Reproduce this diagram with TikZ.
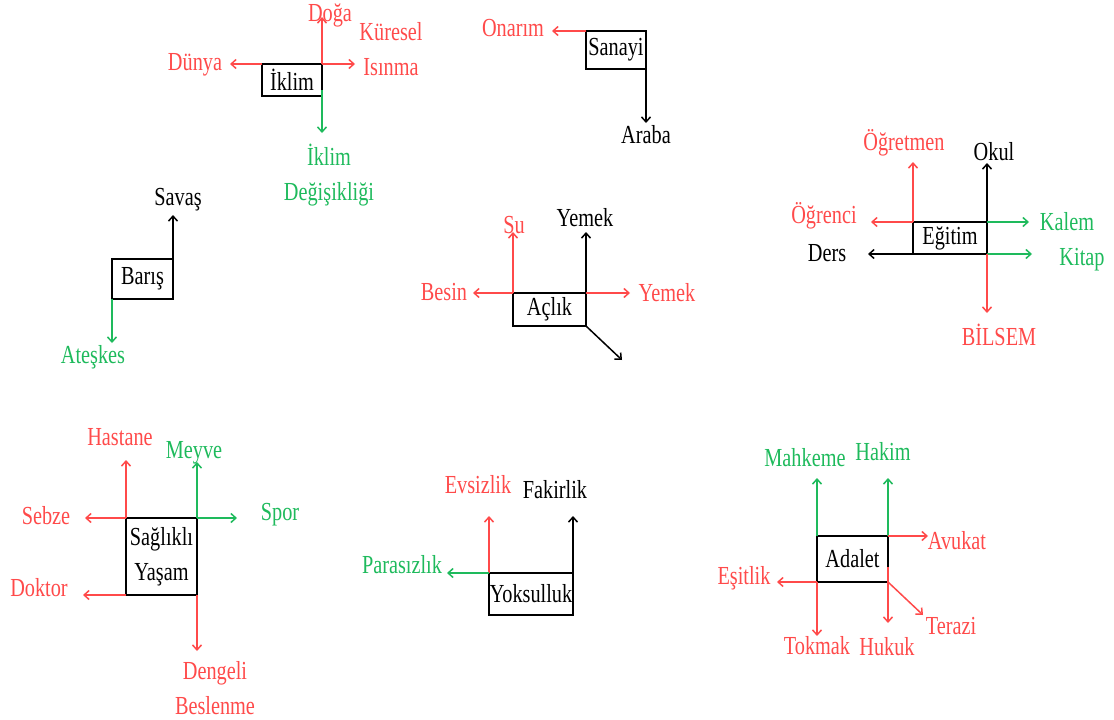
\documentclass[tikz,border=0pt]{standalone}
\usepackage{fontspec}
\setmainfont{Liberation Serif}[FakeStretch=0.78]
\usetikzlibrary{arrows.meta}
\definecolor{cred}{HTML}{FF4A4A}
\definecolor{cgreen}{HTML}{1EBA5C}
\begin{document}
\begin{tikzpicture}[x=1pt,y=-1pt,
  every node/.style={font=\fontsize{26}{35}\selectfont, inner sep=0pt},
  box/.style={draw, line width=1.6pt, outer sep=0pt, inner sep=0pt},
  lbl/.style={align=center},
  arr/.style={line width=1.5pt, -{Straight Barb[length=5pt,width=9pt]}}]
\useasboundingbox (0,0) rectangle (1114,720);
% boxes
\node[box, minimum width=60pt, minimum height=32pt] (iklim) at (292,80) {İklim};
\node[box, minimum width=60pt, minimum height=38pt] (sanayi) at (616,50) {Sanayi};
\node[box, minimum width=61pt, minimum height=40pt] (baris) at (142.5,279) {Barış};
\node[box, minimum width=73pt, minimum height=33pt] (aclik) at (549.5,309.5) {Açlık};
\node[box, minimum width=74pt, minimum height=32pt] (egitim) at (950,238) {Eğitim};
\node[box, minimum width=71pt, minimum height=77pt, align=center] (saglik) at (161.5,556.5) {Sağlıklı\\Yaşam};
\node[box, minimum width=84pt, minimum height=42pt] (yok) at (531,594) {Yoksulluk};
\node[box, minimum width=71pt, minimum height=46pt] (adalet) at (852.5,559) {Adalet};

% İklim
\coordinate (ik1) at (322,17);
\coordinate (ik2) at (230,64);
\coordinate (ik3) at (355,64);
\coordinate (ik4) at (322,133);
\draw[arr,cred] (iklim.north east) -- (ik1);
\draw[arr,cred] (iklim.north west) -- (ik2);
\draw[arr,cred] (iklim.north east) -- (ik3);
\draw[arr,cgreen] ([yshift=6pt]iklim.south east) -- (ik4);
\node[lbl,cred] (lDoga) at (330,15) {Doğa};
\node[lbl,cred] (lDunya) at (195,65) {Dünya};
\node[lbl,cred] (lKuresel) at (391,49) {Küresel\\Isınma};
\node[lbl,cgreen] (lIklimD) at (329,175) {İklim\\Değişikliği};

% Sanayi
\coordinate (sa1) at (552,31);
\coordinate (sa2) at (646,123);
\draw[arr,cred] (sanayi.north west) -- (sa1);
\draw[arr] (sanayi.south east) -- (sa2);
\node[lbl,cred] (lOnarim) at (513,28) {Onarım};
\node[lbl] (lAraba) at (646,135) {Araba};

% Barış
\coordinate (ba1) at (173,215);
\coordinate (ba2) at (112,343);
\draw[arr] (baris.north east) -- (ba1);
\draw[arr,cgreen] (baris.south west) -- (ba2);
\node[lbl] (lSavas) at (178,200) {Savaş};
\node[lbl,cgreen] (lAteskes) at (93,357) {Ateşkes};

% Açlık
\coordinate (ac1) at (513,232);
\coordinate (ac2) at (586,232);
\coordinate (ac3) at (473,293);
\coordinate (ac4) at (630,293);
\coordinate (ac5) at (622,360);
\draw[arr,cred] (aclik.north west) -- (ac1);
\draw[arr] (aclik.north east) -- (ac2);
\draw[arr,cred] (aclik.north west) -- (ac3);
\draw[arr,cred] (aclik.north east) -- (ac4);
\draw[arr] (aclik.south east) -- (ac5);
\node[lbl,cred] (lSu) at (514,225) {Su};
\node[lbl] (lYemek1) at (585,218) {Yemek};
\node[lbl,cred] (lBesin) at (444,292) {Besin};
\node[lbl,cred] (lYemek2) at (667,293) {Yemek};

% Eğitim
\coordinate (eg1) at (913,162);
\coordinate (eg2) at (987,163);
\coordinate (eg3) at (871,222);
\coordinate (eg4) at (868,254);
\coordinate (eg5) at (1029,222);
\coordinate (eg6) at (1032,254);
\coordinate (eg7) at (987,313);
\draw[arr,cred] (egitim.north west) -- (eg1);
\draw[arr] (egitim.north east) -- (eg2);
\draw[arr,cred] (egitim.north west) -- (eg3);
\draw[arr] (egitim.south west) -- (eg4);
\draw[arr,cgreen] (egitim.north east) -- (eg5);
\draw[arr,cgreen] (egitim.south east) -- (eg6);
\draw[arr,cred] (egitim.south east) -- (eg7);
\node[lbl,cred] (lOgretmen) at (904,143) {Öğretmen};
\node[lbl] (lOkul) at (994,152) {Okul};
\node[lbl,cred] (lOgrenci) at (824,216) {Öğrenci};
\node[lbl] (lDers) at (827,253) {Ders};
\node[lbl,cgreen] (lKalem) at (1067,222) {Kalem};
\node[lbl,cgreen] (lKitap) at (1082,260) {Kitap};
\node[lbl,cred] (lBilsem) at (999,335) {BİLSEM};

% Sağlıklı Yaşam
\coordinate (sg1) at (126,460);
\coordinate (sg2) at (197,462);
\coordinate (sg3) at (85,518);
\coordinate (sg4) at (237,518);
\coordinate (sg5) at (83,595);
\coordinate (sg6) at (197,651);
\draw[arr,cred] (saglik.north west) -- (sg1);
\draw[arr,cgreen] (saglik.north east) -- (sg2);
\draw[arr,cred] (saglik.north west) -- (sg3);
\draw[arr,cgreen] (saglik.north east) -- (sg4);
\draw[arr,cred] (saglik.south west) -- (sg5);
\draw[arr,cred] (saglik.south east) -- (sg6);
\node[lbl,cred] (lHastane) at (120,437) {Hastane};
\node[lbl,cgreen] (lMeyve) at (194,453) {Meyve};
\node[lbl,cred] (lSebze) at (46,516) {Sebze};
\node[lbl,cgreen] (lSpor) at (280,515) {Spor};
\node[lbl,cred] (lDoktor) at (39,588) {Doktor};
\node[lbl,cred] (lDengeli) at (215,688) {Dengeli\\Beslenme};

% Yoksulluk
\coordinate (yo1) at (489,516);
\coordinate (yo2) at (573,516);
\coordinate (yo3) at (447,573);
\draw[arr,cred] (yok.north west) -- (yo1);
\draw[arr] (yok.north east) -- (yo2);
\draw[arr,cgreen] (yok.north west) -- (yo3);
\node[lbl,cred] (lEvsizlik) at (478,485) {Evsizlik};
\node[lbl] (lFakirlik) at (555,490) {Fakirlik};
\node[lbl,cgreen] (lParasizlik) at (402,565) {Parasızlık};

% Adalet
\coordinate (ad1) at (817,478);
\coordinate (ad2) at (888,478);
\coordinate (ad3) at (928,536);
\coordinate (ad4) at (777,582);
\coordinate (ad5) at (817,636);
\coordinate (ad6) at (888,623);
\coordinate (ad7) at (923,615);
\draw[arr,cgreen] (adalet.north west) -- (ad1);
\draw[arr,cgreen] (adalet.north east) -- (ad2);
\draw[arr,cred] (adalet.north east) -- (ad3);
\draw[arr,cred] (adalet.south west) -- (ad4);
\draw[arr,cred] (adalet.south west) -- (ad5);
\draw[arr,cred] ([yshift=15pt]adalet.south east) -- (ad6);
\draw[arr,cred] (adalet.south east) -- (ad7);
\node[lbl,cgreen] (lMahkeme) at (805,458) {Mahkeme};
\node[lbl,cgreen] (lHakim) at (883,452) {Hakim};
\node[lbl,cred] (lAvukat) at (957,541) {Avukat};
\node[lbl,cred] (lEsitlik) at (744,578) {Eşitlik};
\node[lbl,cred] (lTokmak) at (817,646) {Tokmak};
\node[lbl,cred] (lHukuk) at (887,647) {Hukuk};
\node[lbl,cred] (lTerazi) at (951,626) {Terazi};
\end{tikzpicture}
\end{document}
